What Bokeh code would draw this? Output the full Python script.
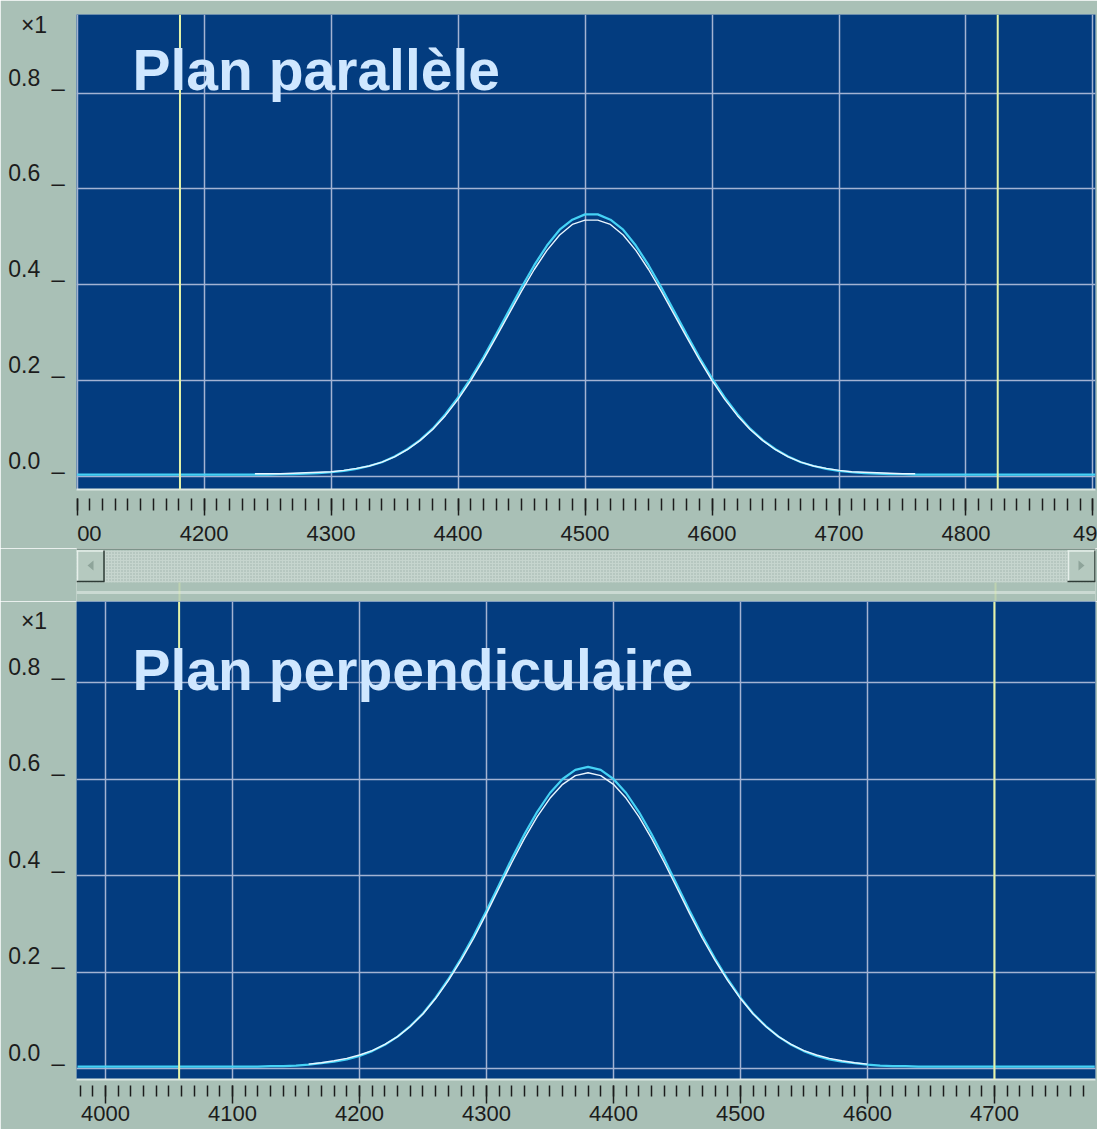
from bokeh.plotting import figure
from bokeh.layouts import column
from bokeh.models import (Range1d, SingleIntervalTicker, FixedTicker, Span, Label)
from bokeh.embed import file_html
from bokeh.resources import INLINE

# ---------------- data ----------------
top_title = "Plan parallèle"
bottom_title = "Plan perpendiculaire"
y_ticks = [0.0, 0.2, 0.4, 0.6, 0.8]
y_tick_labels = ["0.0", "0.2", "0.4", "0.6", "0.8"]
scale_label = "\u00d71"

top_x_range = (4099.5, 4902.0)
top_cursors = [4181, 4825]
top_cyan_x = [4100] + list(range(4240, 4780, 10)) + [4902]
top_cyan_y = [0.004,
              0.004, 0.004, 0.005, 0.005, 0.006, 0.007, 0.009, 0.012, 0.016, 0.022,
              0.030, 0.042, 0.057, 0.076, 0.100, 0.130, 0.165, 0.205, 0.249, 0.297,
              0.346, 0.395, 0.441, 0.482, 0.515, 0.536, 0.547, 0.547, 0.536, 0.515,
              0.482, 0.441, 0.395, 0.346, 0.297, 0.249, 0.205, 0.165, 0.130, 0.100,
              0.076, 0.057, 0.042, 0.030, 0.022, 0.016, 0.012, 0.009, 0.007, 0.006,
              0.005, 0.005, 0.004, 0.004,
              0.004]
top_white_x = list(range(4240, 4770, 10))
top_white_y = [0.006, 0.006, 0.006, 0.007, 0.008, 0.009, 0.010, 0.013, 0.017, 0.022,
               0.030, 0.041, 0.056, 0.075, 0.098, 0.127, 0.161, 0.200, 0.244, 0.291,
               0.339, 0.387, 0.432, 0.472, 0.504, 0.526, 0.535, 0.535, 0.526, 0.504,
               0.472, 0.432, 0.387, 0.339, 0.291, 0.244, 0.200, 0.161, 0.127, 0.098,
               0.075, 0.056, 0.041, 0.030, 0.022, 0.017, 0.013, 0.010, 0.009, 0.008,
               0.007, 0.006, 0.006]

bot_x_range = (3977.2, 4779.6)
bot_cursors = [4058, 4700]
bot_cyan_x = [3978] + list(range(4120, 4650, 10)) + [4779]
bot_cyan_y = [0.004,
              0.004, 0.005, 0.005, 0.006, 0.008, 0.011, 0.014, 0.019, 0.026, 0.036,
              0.049, 0.066, 0.088, 0.114, 0.147, 0.185, 0.228, 0.275, 0.327, 0.381,
              0.435, 0.486, 0.532, 0.571, 0.600, 0.619, 0.625, 0.619, 0.600, 0.571,
              0.532, 0.486, 0.435, 0.381, 0.327, 0.275, 0.228, 0.185, 0.147, 0.114,
              0.088, 0.066, 0.049, 0.036, 0.026, 0.019, 0.014, 0.011, 0.008, 0.006,
              0.005, 0.005, 0.004,
              0.004]
bot_white_x = list(range(4160, 4610, 10))
bot_white_y = [0.009, 0.012, 0.016, 0.021, 0.028, 0.037, 0.050, 0.066, 0.087, 0.113,
               0.145, 0.182, 0.224, 0.270, 0.321, 0.374, 0.427, 0.477, 0.522, 0.560,
               0.589, 0.607, 0.613, 0.607, 0.589, 0.560, 0.522, 0.477, 0.427, 0.374,
               0.321, 0.270, 0.224, 0.182, 0.145, 0.113, 0.087, 0.066, 0.050, 0.037,
               0.028, 0.021, 0.016, 0.012, 0.009]

# ---------------- style ----------------
PANEL = "#a9c0b6"
PLOT_BG = "#033c7f"
GRID = "#a3b3d3"
CYAN = "#45d2f5"
WHITE = "#eaf6ff"
CURSOR = "#e4f3a8"
TITLE_C = "#cfe7ff"
FONT = "Liberation Sans"
TEXT_C = "#1c1c1c"
FS = "\u2007"   # figure space (digit width)
ES = "\u2002"   # en space


def make_panel(title, xr, yr, cx, cy, wx, wy, cursors, height, min_top, min_bottom,
               tick_in, major_out, minor_out, standoff, overrides, title_y, x1_pos):
    p = figure(width=1097, height=height, x_range=Range1d(*xr), y_range=Range1d(*yr),
               toolbar_location=None, output_backend="svg",
               min_border_left=76, min_border_right=2,
               min_border_top=min_top, min_border_bottom=min_bottom)
    p.background_fill_color = PLOT_BG
    p.border_fill_color = PANEL
    p.outline_line_color = None

    # x axis
    xa = p.xaxis[0]
    xa.ticker = SingleIntervalTicker(interval=100, num_minor_ticks=10)
    xa.major_tick_in = tick_in
    xa.major_tick_out = major_out
    xa.minor_tick_in = tick_in
    xa.minor_tick_out = minor_out
    xa.major_tick_line_color = TEXT_C
    xa.minor_tick_line_color = TEXT_C
    xa.major_tick_line_width = 1.5
    xa.minor_tick_line_width = 1.5
    xa.axis_line_color = "#dde8e2"
    xa.axis_line_width = 2
    xa.major_label_standoff = standoff
    xa.major_label_text_font = FONT
    xa.major_label_text_font_size = "22px"
    xa.major_label_text_color = TEXT_C
    xa.major_label_overrides = overrides

    # y axis: labels carry the "_" tick mark, the top one is the "x1" scale
    ya = p.yaxis[0]
    ya.ticker = FixedTicker(ticks=y_ticks + [x1_pos])
    lbl = {t: s + ES + "_\n" + FS for t, s in zip(y_ticks, y_tick_labels)}
    lbl[x1_pos] = scale_label + FS + "\u2009\n" + FS
    ya.major_label_overrides = lbl
    ya.major_tick_in = 0
    ya.major_tick_out = 0
    ya.major_tick_line_color = None
    ya.minor_tick_line_color = None
    ya.axis_line_color = None
    ya.major_label_standoff = 12
    ya.major_label_text_font = FONT
    ya.major_label_text_font_size = "23px"
    ya.major_label_text_color = TEXT_C

    p.xgrid.ticker = xa.ticker
    p.ygrid.ticker = FixedTicker(ticks=y_ticks)
    for g in (p.xgrid[0], p.ygrid[0]):
        g.grid_line_color = GRID
        g.grid_line_width = 1.5

    for c in cursors:
        p.add_layout(Span(location=c, dimension="height", line_color=CURSOR, line_width=2))

    p.line(cx, cy, line_color=CYAN, line_width=2.2)
    p.line(wx, wy, line_color=WHITE, line_width=1.4)

    p.add_layout(Label(x=56, y=title_y, x_units="screen", y_units="screen", text=title,
                       text_font=FONT, text_font_style="bold", text_font_size="57px",
                       text_color=TITLE_C, text_baseline="alphabetic"))
    return p


top = make_panel(top_title, top_x_range, (-0.027, 0.964), top_cyan_x, top_cyan_y,
                 top_white_x, top_white_y, top_cursors, 548, 14, 57,
                 -9, 26, 21, 5, {4100: FS + FS + "00", 4900: "49"}, 420, 0.91)

bottom = make_panel(bottom_title, bot_x_range, (-0.0228, 0.9679), bot_cyan_x, bot_cyan_y,
                    bot_white_x, bot_white_y, bot_cursors, 528, 0, 50,
                    -6, 24, 17, 2, {}, 410, 0.895)

# ---------------- scrollbar strip ----------------
sb = figure(width=1097, height=53, x_range=Range1d(76, 1095), y_range=Range1d(53, 0),
            toolbar_location=None, output_backend="svg", min_border=0,
            x_axis_location=None, y_axis_location=None)
sb.grid.visible = False
sb.outline_line_color = None
sb.background_fill_color = PANEL
sb.border_fill_color = PANEL
sb.segment(x0=[76], y0=[0.5], x1=[1095], y1=[0.5], line_color="#6f847b", line_width=1.5)
sb.quad(left=[76], right=[1095], top=[2], bottom=[34], fill_color="#c6d5ce",
        hatch_pattern="dot", hatch_color="#9db2a9", hatch_scale=3, line_color=None)
for l in (76, 1067):
    sb.quad(left=[l], right=[l + 28], top=[2], bottom=[33], fill_color="#b5c9bf",
            line_color=None)
    sb.segment(x0=[l, l + 1], y0=[2.5, 2], x1=[l + 28, l + 1], y1=[2.5, 33],
               line_color="#e6efea", line_width=1.5)
    sb.segment(x0=[l, l + 27.5], y0=[33, 2], x1=[l + 28, l + 27.5], y1=[33, 33],
               line_color="#2e3b36", line_width=1.5)
sb.patch([87, 93, 93], [17, 12, 22], fill_color="#8ea49a", line_color=None)
sb.patch([1084, 1078, 1078], [17, 12, 22], fill_color="#8ea49a", line_color=None)
sb.segment(x0=[76], y0=[44], x1=[1095], y1=[44], line_color="#cbdad3", line_width=3)
sb.segment(x0=[179, 995], y0=[34, 34], x1=[179, 995], y1=[53, 53], line_color=CURSOR,
           line_alpha=0.35, line_width=2)

layout = column(top, sb, bottom, spacing=0)
open("out.html", "w").write(file_html(layout, INLINE))
